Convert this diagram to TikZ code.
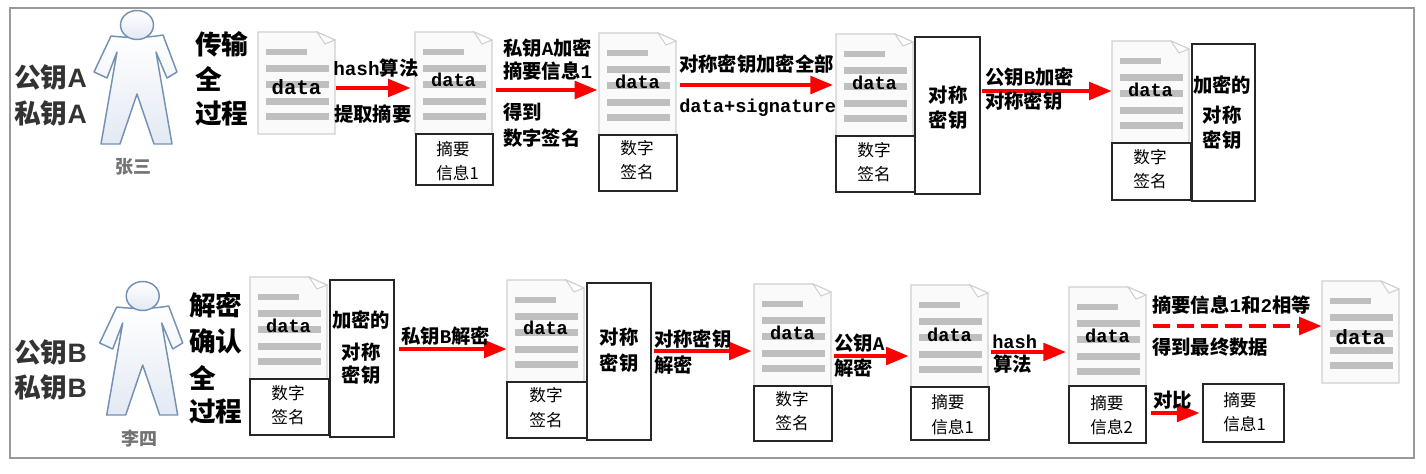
\documentclass[tikz,border=0pt]{standalone}
\usepackage{fontspec}
\setmainfont{Noto Sans CJK SC}
\newfontfamily\monof{Liberation Mono}
\newfontfamily\arialf{Liberation Sans}
\usetikzlibrary{arrows.meta,fit}
\definecolor{arrowred}{HTML}{FF0000}
\definecolor{framegray}{HTML}{999999}
\definecolor{linegray}{HTML}{BFBFBF}
\definecolor{docedge}{HTML}{D0D0D0}
\definecolor{personedge}{HTML}{7391B5}
\definecolor{personfill}{HTML}{E3E9F3}
\tikzset{
  outerframe/.style={draw=framegray,line width=1.5pt},
  boxframe/.style={draw=black!85,fill=white,line width=1.1pt,inner sep=0pt},
  lab/.style={font=\fontsize{14.5pt}{18pt}\selectfont\bfseries,inner sep=0pt,anchor=west},
  boxlab/.style={font=\fontsize{12.5pt}{15pt}\selectfont,inner sep=0pt},
  keylab/.style={font=\fontsize{20pt}{24pt}\selectfont\bfseries,text=black!80,inner sep=0pt,anchor=west},
  steplab/.style={font=\fontsize{20pt}{24pt}\selectfont\bfseries,inner sep=0pt,anchor=west},
  namelab/.style={font=\fontsize{13.5pt}{16pt}\selectfont\bfseries,text=black!55,inner sep=0pt},
  datalab/.style={font=\fontsize{#1pt}{16pt}\selectfont\bfseries\monof,inner sep=0pt},
  flow/.style={draw=arrowred,line width=3.2pt,-{Triangle[length=17pt,width=13pt,fill=arrowred]}},
  flowdash/.style={flow,dash pattern=on 13pt off 5pt},
}
\newcommand{\docicon}[5][14]{% data size, name, x, y, data dy
  \begin{scope}[shift={(#3,#4)}]
    \node[inner sep=0pt,fit={(0,0)(78,102)}] (#2) {};
    \draw[docedge,fill=black!2,line width=.8pt] (0,0) -- (59,0) -- (77,8) -- (77,102) -- (0,102) -- cycle;
    \draw[docedge,fill=white,line width=.8pt] (59,0) -- (67,12) -- (77,8) -- cycle;
    \fill[linegray] (8,17) rectangle (49,23);
    \foreach \ly in {33,49,66,81} \fill[linegray] (8,\ly) rectangle (71,\ly+7);
    \node[datalab=#1] (#2data) at (38.5,#5) {data};
  \end{scope}}
\newcommand{\bx}[5]{\node[boxframe,fit={(#2,#3)(#4,#5)}] (#1) {};}
\newcommand{\person}[2]{% x-shift, y-shift
  \begin{scope}[shift={(#1,#2)}]
    \path[draw=personedge,line width=1.1pt,line join=round,top color=white,bottom color=personfill]
      (111,36) .. controls (128,38) and (146,38) .. (163,35) -- (177,72) -- (167,78) -- (156,52)
      -- (172,144) -- (154,144) -- (137,94) -- (120,144) -- (101,144) -- (117,52) -- (107,78) -- (94,72) -- cycle;
    \path[draw=personedge,line width=1.1pt,top color=white,bottom color=personfill]
      (137,25) ellipse [x radius=16.5,y radius=14.5];
  \end{scope}}
\begin{document}
\begin{tikzpicture}[x=.75pt,y=-.75pt]
\useasboundingbox (0,0) rectangle (1426,474);
\draw[outerframe] (10,8) rectangle (1414,458);

% people
\person{0}{0}
\person{5.7}{271}
\node[namelab] (nameA) at (133,167) {张三};
\node[namelab] (nameB) at (139,439) {李四};
\node[keylab] (pubA) at (14,78) {公钥{\arialf A}};
\node[keylab] (priA) at (14,113) {私钥{\arialf A}};
\node[keylab] (pubB) at (14,352) {公钥{\arialf B}};
\node[keylab] (priB) at (14,387) {私钥{\arialf B}};
\node[steplab] (t1) at (195,44) {传输};
\node[steplab] (t2) at (195,79) {全};
\node[steplab] (t3) at (195,114) {过程};
\node[steplab] (u1) at (189,305) {解密};
\node[steplab] (u2) at (189,341) {确认};
\node[steplab] (u3) at (189,378) {全};
\node[steplab] (u4) at (189,412) {过程};

% top row documents
\docicon[15.5]{da}{258}{32}{55}
\docicon{db}{415}{32}{48}
\docicon{dc}{599}{33}{49}
\docicon{dd}{836}{34}{49}
\docicon{de}{1112}{41}{49}
\bx{bb}{416}{134}{493}{185}
\bx{bc}{599}{135}{677}{191}
\bx{bd}{836}{136}{915}{192}
\bx{kd}{915}{37}{980}{194}
\bx{be}{1112}{143}{1191}{200}
\bx{ke}{1192}{44}{1255}{201}
\node[boxlab,anchor=west] (bb1) at (436,149) {摘要};
\node[boxlab,anchor=west] (bb2) at (436,173) {信息1};
\node[boxlab] (bc1) at (637,148) {数字};
\node[boxlab] (bc2) at (637,172) {签名};
\node[boxlab] (bd1) at (874,150) {数字};
\node[boxlab] (bd2) at (874,174) {签名};
\node[boxlab] (be1) at (1150,157) {数字};
\node[boxlab] (be2) at (1150,181) {签名};
\node[lab,anchor=center] (kd1) at (948,95) {对称};
\node[lab,anchor=center] (kd2) at (948,120) {密钥};
\node[lab,anchor=center] (ke1) at (1222,85) {加密的};
\node[lab,anchor=center] (ke2) at (1222,115) {对称};
\node[lab,anchor=center] (ke3) at (1222,140) {密钥};

% top row arrows
\draw[flow,shorten >=3pt] (da.east |- 0,88) -- (db.west |- 0,88);
\draw[flow,shorten <=2pt,shorten >=1pt] (db.east |- 0,90) -- (dc.west |- 0,90);
\draw[flow,shorten <=2pt,shorten >=2pt] (dc.east |- 0,85) -- (dd.west |- 0,85);
\draw[flow,shorten <=1pt] (kd.east |- 0,91) -- (de.west |- 0,91);
\node[lab] (a1) at (333,68) {{\monof hash}算法};
\node[lab] (a2) at (334,114) {提取摘要};
\node[lab] (a3) at (503,48) {私钥{\monof A}加密};
\node[lab] (a4) at (503,71) {摘要信息{\monof 1}};
\node[lab] (a5) at (503,112) {得到};
\node[lab] (a6) at (503,138) {数字签名};
\node[lab] (a7) at (679,64) {对称密钥加密全部};
\node[lab,font=\fontsize{14pt}{16pt}\selectfont\bfseries\monof] (a8) at (679,108) {data+signature};
\node[lab] (a9) at (985,77) {公钥{\monof B}加密};
\node[lab] (a10) at (985,101) {对称密钥};

% bottom row documents
\docicon{la}{250}{277}{49}
\docicon{lb}{507}{280}{48}
\docicon{lc}{754}{284}{49}
\docicon{ld}{911}{285}{50}
\docicon{le}{1069}{287}{49}
\docicon[15.5]{lf}{1322}{281}{56}
\bx{ba}{250}{379}{329}{435}
\bx{ka}{330}{280}{394}{437}
\bx{bl}{507}{382}{587}{438}
\bx{kl}{587}{283}{651}{440}
\bx{bm}{754}{386}{832}{441}
\bx{bn}{911}{387}{989}{440}
\bx{bo}{1069}{386}{1146}{443}
\bx{bp}{1203}{384}{1284}{442}
\node[boxlab] (ba1) at (288,393) {数字};
\node[boxlab] (ba2) at (288,417) {签名};
\node[lab,anchor=center] (ka1) at (361,320) {加密的};
\node[lab,anchor=center] (ka2) at (361,352) {对称};
\node[lab,anchor=center] (ka3) at (361,375) {密钥};
\node[boxlab] (bl1) at (546,395) {数字};
\node[boxlab] (bl2) at (546,420) {签名};
\node[lab,anchor=center] (kl1) at (619,337) {对称};
\node[lab,anchor=center] (kl2) at (619,363) {密钥};
\node[boxlab] (bm1) at (792,399) {数字};
\node[boxlab] (bm2) at (792,423) {签名};
\node[boxlab,anchor=west] (bn1) at (931,402) {摘要};
\node[boxlab,anchor=west] (bn2) at (931,427) {信息1};
\node[boxlab,anchor=west] (bo1) at (1090,403) {摘要};
\node[boxlab,anchor=west] (bo2) at (1090,427) {信息2};
\node[boxlab,anchor=west] (bp1) at (1223,400) {摘要};
\node[boxlab,anchor=west] (bp2) at (1223,424) {信息1};

% bottom row arrows
\draw[flow,shorten <=3pt] (ka.east |- 0,349) -- (lb.west |- 0,349);
\draw[flow,shorten <=1.5pt,shorten >=1.5pt] (kl.east |- 0,351) -- (lc.west |- 0,351);
\draw[flow,shorten <=1pt,shorten >=1.5pt] (lc.east |- 0,356) -- (ld.west |- 0,356);
\draw[flow,shorten <=1pt,shorten >=2pt] (ld.east |- 0,352) -- (le.west |- 0,352);
\draw[flowdash,shorten <=4pt] (le.east |- 0,326) -- (lf.west |- 0,326);
\draw[flow,shorten <=3pt,shorten >=2pt] (bo.east |- 0,413) -- (bp.west |- 0,413);
\node[lab] (c1) at (401,336) {私钥{\monof B}解密};
\node[lab] (c2) at (654,339) {对称密钥};
\node[lab] (c3) at (654,365) {解密};
\node[lab] (c4) at (834,343) {公钥{\monof A}};
\node[lab] (c5) at (834,368) {解密};
\node[lab,font=\fontsize{14pt}{16pt}\selectfont\bfseries\monof] (c6) at (992,342) {hash};
\node[lab] (c7) at (993,364) {算法};
\node[lab] (c8) at (1152,305) {摘要信息{\monof 1}和{\monof 2}相等};
\node[lab] (c9) at (1152,347) {得到最终数据};
\node[lab] (c10) at (1153,400) {对比};
\end{tikzpicture}
\end{document}
